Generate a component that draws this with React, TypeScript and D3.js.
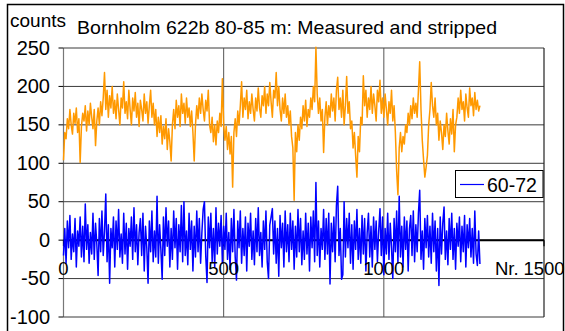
import * as d3 from 'd3';

// readings every 4 channels, Nr. 0 .. 1300
const STEP = 4;

const measured = [
  104, 140, 132, 158, 145, 170, 150, 138, 165, 152, 172, 140, 158, 101, 148, 165, 155, 175, 142, 168, 150, 178, 160, 145, 170,
  123, 155, 172, 150, 180, 162, 185, 218, 170, 195, 160, 188, 172, 200, 165, 182, 158, 190, 170, 150, 185, 172, 206, 165, 180,
  158, 195, 170, 150, 185, 168, 192, 160, 178, 148, 182, 170, 155, 190, 165, 180, 152, 175, 195, 160, 178, 150, 170, 135, 160,
  140, 162, 125, 148, 132, 158, 118, 145, 128, 103, 150, 170, 145, 182, 160, 175, 148, 190, 165, 178, 152, 185, 160, 172, 148,
  168, 140, 103, 150, 175, 158, 185, 165, 190, 170, 155, 182, 168, 195, 150, 140, 160, 128, 150, 124, 155, 140, 165, 148, 210,
  150, 130, 148, 118, 140, 112, 135, 69, 140, 158, 135, 168, 150, 175, 206, 160, 185, 170, 195, 158, 180, 165, 190, 170, 155,
  185, 168, 198, 172, 160, 188, 175, 200, 165, 190, 175, 205, 180, 160, 195, 185, 218, 175, 200, 170, 155, 185, 165, 190, 160,
  175, 150, 168, 135, 120, 52, 140, 115, 150, 130, 160, 145, 175, 155, 182, 148, 170, 160, 185, 170, 200, 180, 251, 190, 165,
  185, 155, 170, 114, 160, 180, 150, 175, 160, 190, 168, 185, 155, 195, 212, 170, 185, 160, 195, 150, 175, 213, 165, 180, 145,
  155, 120, 140, 110, 82, 135, 115, 160, 150, 214, 175, 195, 160, 185, 170, 200, 165, 190, 175, 155, 195, 180, 208, 165, 185,
  160, 190, 170, 150, 180, 165, 195, 155, 175, 140, 90, 59, 120, 140, 115, 135, 125, 150, 140, 165, 150, 175, 158, 185, 165,
  178, 160, 195, 232, 170, 130, 105, 82, 95, 110, 150, 170, 205, 175, 160, 185, 150, 165, 130, 155, 140, 118, 150, 135, 165,
  142, 125, 158, 138, 170, 115, 150, 160, 185, 165, 195, 170, 180, 155, 190, 172, 160, 198, 175, 185, 162, 192, 170, 182, 168, 175,
];

const stripped = [
  -20, 15, -30, 25, -10, 32, -25, 8, -15, 28, -35, 12, -8, 30, -22, 18, -28, 47, -12, 20, -30, 10, -18, 35, -25,
  22, -5, -46, 28, -15, 38, -20, 12, 60, -28, 20, -56, 15, -10, 30, -35, 25, -12, 40, -22, 8, -30, 35, -18, 22,
  -38, 15, -8, 30, -25, 42, -15, 20, -32, 10, 28, -20, 35, -40, 18, -10, -56, 25, -15, 38, -28, 12, -22, 57, -30,
  20, -12, -51, 30, -20, 42, -8, 25, -35, 15, -25, 38, -10, 28, -38, 20, -15, 45, -28, 50, -20, 12, -32, 35, -12,
  25, -40, 18, -22, 38, -15, 28, -30, 10, 40, 50, -20, -55, 30, -10, 35, -28, 15, -35, 42, -18, 22, -8, 32, -30,
  18, -12, 35, -25, 10, -38, 28, -15, 40, -22, -52, 25, -10, 38, -30, 15, -20, 30, -40, 22, -8, 35, -25, 12, -32,
  28, -15, 42, -20, 10, -35, 25, -12, 38, -28, -50, 20, 30, 41, -18, 25, -30, 15, -47, 32, -10, 22, -35, 38, -15,
  20, -28, 35, -12, 25, -38, 18, -22, 40, -15, 28, -32, 12, -25, 35, -18, 22, -40, 30, -10, 38, -28, 75, -20, 25,
  -35, 15, -12, 40, -25, 28, -18, 35, -57, 22, -15, 30, -28, 45, 70, -20, 15, -51, -45, 50, -22, 28, -10, 35, -30,
  20, -38, 25, -12, 40, -25, 15, -30, 32, -18, 28, -40, 10, 35, -22, 18, -35, 30, -12, 25, -28, 12, 41, -20, 30,
  -45, 15, -18, 35, -25, 22, -10, -50, 28, -15, 38, -30, 57, -22, 18, -35, 30, -12, 25, -40, 15, 32, -20, 38, -28,
  20, -15, 35, 65, -25, 12, -38, 28, -10, 32, -22, 18, -30, 35, -15, 25, -40, 15, -59, 30, -18, 22, 43, -25, 12,
  -32, 28, -12, 35, -25, 15, -38, 22, -8, 30, -28, 18, -15, 32, -35, 20, -10, 28, -22, 15, -30, 38, -18, -33, 12, -31,
];

const yTicks = [-100, -50, 0, 50, 100, 150, 200, 250];
const xTicks = [0, 500, 1000, 1500];
const xGrid = [500, 1000];

const FONT = '"Liberation Sans", Arial, sans-serif';
const ORANGE = '#FF9900';
const BLUE = '#0000FF';

export default function App() {
  const width = 565;
  const height = 331;

  const x = d3.scaleLinear().domain([0, 1500]).range([63.5, 544]);
  const y = d3.scaleLinear().domain([-100, 250]).range([317, 48]);

  const line = d3
    .line<number>()
    .x((_, i) => x(i * STEP))
    .y((d) => y(d));

  return (
    <svg
      width={width}
      height={height}
      style={{ position: 'absolute', left: 0, top: 0, background: '#fff' }}
      fontFamily={FONT}
    >
      {/* chart frame */}
      <rect x={7.5} y={4.5} width={556} height={340} fill="#fff" stroke="#000" strokeWidth={1.5} />

      {/* horizontal grid */}
      {yTicks.map((t) => (
        <line key={'h' + t} x1={x(0)} x2={x(1500)} y1={y(t)} y2={y(t)} stroke="#3a3a3a" strokeWidth={1} />
      ))}
      {/* vertical grid */}
      {xGrid.map((t) => (
        <line key={'v' + t} x1={x(t)} x2={x(t)} y1={y(250)} y2={y(-100)} stroke="#555" strokeWidth={1} />
      ))}
      <line x1={x(0)} x2={x(0)} y1={y(250)} y2={y(-100)} stroke="#777" strokeWidth={1.2} />
      <line x1={x(1500)} x2={x(1500)} y1={y(250)} y2={y(-100)} stroke="#222" strokeWidth={1.2} />

      {/* y ticks */}
      {yTicks.map((t) => (
        <line key={'yt' + t} x1={x(0) - 5} x2={x(0)} y1={y(t)} y2={y(t)} stroke="#000" />
      ))}

      {/* x axis at zero */}
      <line x1={x(0)} x2={x(1500)} y1={y(0)} y2={y(0)} stroke="#000" strokeWidth={2} />
      {xTicks.map((t) => (
        <line key={'xt' + t} x1={x(t)} x2={x(t)} y1={y(0)} y2={y(0) + 6} stroke="#000" strokeWidth={1.2} />
      ))}

      {/* series */}
      <path d={line(measured) ?? ''} fill="none" stroke={ORANGE} strokeWidth={1.5} strokeLinejoin="round" />
      <path d={line(stripped) ?? ''} fill="none" stroke={BLUE} strokeWidth={1.5} strokeLinejoin="round" />

      {/* y labels */}
      {yTicks.map((t) => (
        <text key={'yl' + t} x={50} y={y(t) + 6.5} textAnchor="end" fontSize={20} fill="#000">
          {t}
        </text>
      ))}

      {/* x labels */}
      {xTicks.map((t) => (
        <text key={'xl' + t} x={x(t)} y={275} textAnchor="middle" fontSize={18.5} fill="#000">
          {t}
        </text>
      ))}
      <text x={495} y={275} fontSize={18.5} fill="#000">
        Nr.
      </text>

      {/* titles */}
      <text x={10} y={27} fontSize={19} fill="#000">
        counts
      </text>
      <text x={77} y={34} fontSize={19} fill="#000" textLength={420} lengthAdjust="spacingAndGlyphs">
        Bornholm 622b 80-85 m: Measured and stripped
      </text>

      {/* legend */}
      <rect x={455.5} y={170.5} width={87.5} height={27} fill="#fff" stroke="#000" strokeWidth={1} />
      <line x1={460} x2={484} y1={184.5} y2={184.5} stroke={BLUE} strokeWidth={1.2} />
      <text x={487} y={191.5} fontSize={19.5} fill="#000">
        60-72
      </text>
    </svg>
  );
}
